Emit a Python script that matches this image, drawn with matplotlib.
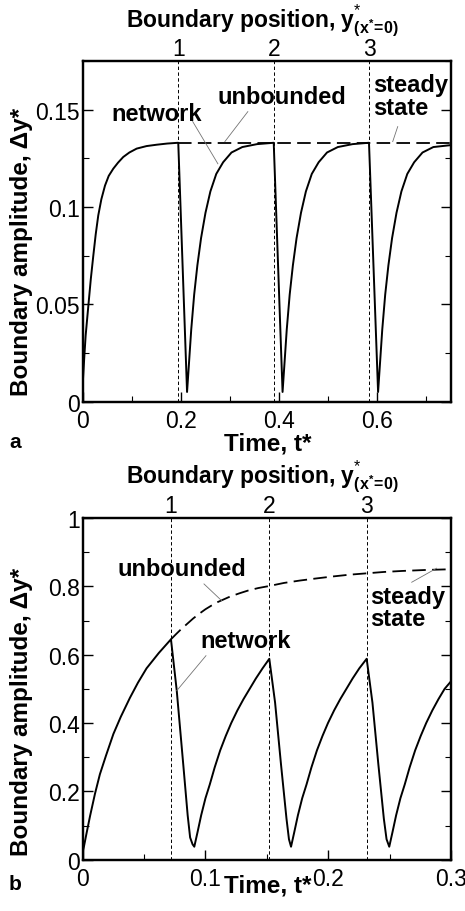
import matplotlib
matplotlib.use("Agg")
import matplotlib.pyplot as plt

plt.rcParams['font.family'] = ['Liberation Sans', 'DejaVu Sans']
plt.rcParams['mathtext.fontset'] = 'custom'
plt.rcParams['mathtext.rm'] = 'Liberation Sans'
plt.rcParams['mathtext.bf'] = 'Liberation Sans:bold'
plt.rcParams['mathtext.it'] = 'Liberation Sans:italic'

# ---------------- Panel a data ----------------
net_a_t = [0.000, 0.003, 0.006, 0.0114, 0.0165, 0.0216, 0.0265, 0.0317, 0.038, 0.0454, 0.053, 0.0623, 0.072,
           0.0826, 0.095, 0.1099, 0.130, 0.1506, 0.172, 0.1946,
           0.2125,
           0.2165, 0.221, 0.227, 0.2335, 0.241, 0.250, 0.260, 0.272, 0.286, 0.303, 0.325, 0.355, 0.389,
           0.407,
           0.411, 0.4155, 0.4215, 0.428, 0.4355, 0.4445, 0.4545, 0.4665, 0.4805, 0.4975, 0.5195, 0.5495, 0.583,
           0.6015,
           0.6055, 0.610, 0.616, 0.6225, 0.630, 0.639, 0.649, 0.661, 0.675, 0.692, 0.714, 0.750]
net_a_v = [0.009, 0.022, 0.034, 0.049, 0.063, 0.075, 0.086, 0.0957, 0.104, 0.111, 0.116, 0.1197, 0.1228,
           0.1257, 0.128, 0.130, 0.1313, 0.132, 0.1326, 0.133,
           0.005,
           0.020, 0.037, 0.055, 0.070, 0.084, 0.097, 0.108, 0.117, 0.123, 0.128, 0.1308, 0.1323, 0.133,
           0.005,
           0.020, 0.037, 0.055, 0.070, 0.084, 0.097, 0.108, 0.117, 0.123, 0.128, 0.1308, 0.1323, 0.133,
           0.005,
           0.020, 0.037, 0.055, 0.070, 0.084, 0.097, 0.108, 0.117, 0.123, 0.128, 0.1308, 0.1318]
steady_a_t = [0.1946, 0.75]
steady_a_v = [0.133, 0.133]
bound_a_t = [0.1946, 0.389, 0.583]
bound_labels = ['1', '2', '3']

# ---------------- Panel b data ----------------
net_b_t = [0.000, 0.003, 0.006, 0.010, 0.014, 0.019, 0.025, 0.031, 0.0385, 0.045, 0.052, 0.062, 0.0719,
           0.0766, 0.082, 0.0855, 0.0875, 0.0895, 0.0909,
           0.0935, 0.0965, 0.100, 0.1035, 0.1075, 0.112, 0.1165, 0.121, 0.126, 0.131, 0.136, 0.141, 0.1465, 0.152,
           0.1567, 0.1615, 0.166, 0.168, 0.1697,
           0.1723, 0.1753, 0.1788, 0.1823, 0.1863, 0.1908, 0.1953, 0.1998, 0.2048, 0.2098, 0.2148, 0.2198, 0.2253,
           0.2313,
           0.236, 0.2408, 0.2453, 0.2475, 0.2497,
           0.2523, 0.2553, 0.2588, 0.2623, 0.2663, 0.2708, 0.2753, 0.2798, 0.2848, 0.2898, 0.2948, 0.300]
net_b_v = [0.020, 0.075, 0.128, 0.193, 0.250, 0.305, 0.368, 0.418, 0.474, 0.518, 0.560, 0.605, 0.645,
           0.495, 0.275, 0.130, 0.065, 0.045, 0.038,
           0.080, 0.130, 0.180, 0.220, 0.270, 0.320, 0.362, 0.400, 0.437, 0.470, 0.500, 0.530, 0.560, 0.588,
           0.460, 0.280, 0.120, 0.060, 0.038,
           0.080, 0.130, 0.180, 0.220, 0.270, 0.320, 0.362, 0.400, 0.437, 0.470, 0.500, 0.530, 0.560,
           0.588,
           0.460, 0.280, 0.120, 0.060, 0.038,
           0.080, 0.130, 0.180, 0.220, 0.270, 0.320, 0.362, 0.400, 0.437, 0.470, 0.500, 0.522]
unb_b_t = [0.0719, 0.076, 0.080, 0.085, 0.090, 0.095, 0.100, 0.105, 0.110, 0.115, 0.120, 0.128, 0.135, 0.143,
           0.152, 0.164, 0.177, 0.190, 0.204, 0.217, 0.231, 0.245, 0.260, 0.280, 0.300]
unb_b_v = [0.645, 0.660, 0.674, 0.690, 0.706, 0.720, 0.733, 0.744, 0.754, 0.762, 0.770, 0.780, 0.788, 0.795,
           0.801, 0.810, 0.817, 0.823, 0.829, 0.834, 0.838, 0.842, 0.845, 0.848, 0.850]
bound_b_t = [0.0719, 0.152, 0.2313]

W, H = 465, 912
fig = plt.figure(figsize=(W / 100, H / 100), dpi=100)

TICK_FS = 16.5
LAB_FS = 17.5
TOP_FS = 16.5
ANN_FS = 17
LEADER = dict(color='0.45', lw=0.6)


def fmt(v):
    return ('%.3f' % v).rstrip('0').rstrip('.')


def setup(ax, xlim, ylim, xmaj, xmin, ymaj, ymin):
    ax.set_xlim(*xlim)
    ax.set_ylim(*ylim)
    ax.set_xticks(xmaj)
    ax.set_xticks(xmin, minor=True)
    ax.set_yticks(ymaj)
    ax.set_yticks(ymin, minor=True)
    ax.set_xticklabels([fmt(v) for v in xmaj])
    ax.set_yticklabels([fmt(v) for v in ymaj])
    ax.tick_params(which='both', direction='in', left=True, right=True, bottom=True, top=False,
                   labelsize=TICK_FS, width=1.0)
    ax.tick_params(which='major', length=7)
    ax.tick_params(which='minor', length=4, width=0.8)
    ax.tick_params(axis='x', pad=5)
    ax.tick_params(axis='y', pad=2)
    for s in ax.spines.values():
        s.set_linewidth(1.6)


def top_axis(ax, ticks):
    top = ax.twiny()
    top.set_xlim(ax.get_xlim())
    top.set_xticks(ticks)
    top.set_xticklabels(bound_labels)
    top.tick_params(direction='in', length=0, labelsize=TICK_FS, pad=0.5)
    for s in top.spines.values():
        s.set_linewidth(1.6)
    return top


def px(x, y):
    return x / W, 1 - y / H


# ---------------- Panel a ----------------
axa = fig.add_axes([82.7 / W, 1 - 402.7 / H, (451 - 82.7) / W, (402.7 - 62) / H])
setup(axa, (0, 0.75), (0, 0.175), [0, 0.2, 0.4, 0.6], [0.1, 0.3, 0.5, 0.7],
      [0, 0.05, 0.1, 0.15], [0.025, 0.075, 0.125, 0.175])
for t in bound_a_t:
    axa.axvline(t, color='black', lw=0.7, ls=(0, (3.5, 2.5)))
axa.plot(net_a_t, net_a_v, color='black', lw=1.4)
axa.plot(steady_a_t, steady_a_v, color='black', lw=1.3, ls=(0, (7.5, 3.5)))
top_axis(axa, bound_a_t)

axa.text(0.150, 0.148, 'network', fontsize=ANN_FS, fontweight='bold', ha='center', va='center')
axa.text(0.4055, 0.1567, 'unbounded', fontsize=ANN_FS, fontweight='bold', ha='center', va='center')
axa.text(0.5906, 0.157, 'steady\nstate', fontsize=ANN_FS, fontweight='bold', ha='left', va='center',
         linespacing=0.95)
axa.plot([0.224, 0.2753], [0.1439, 0.1222], **LEADER)
axa.plot([0.3363, 0.2895], [0.1490, 0.1336], **LEADER)
axa.plot([0.6415, 0.6313], [0.1413, 0.1336], **LEADER)

# ---------------- Panel b ----------------
axb = fig.add_axes([82.7 / W, 1 - 860.7 / H, (451 - 82.7) / W, (860.7 - 519) / H])
setup(axb, (0, 0.3), (0, 1.0), [0, 0.1, 0.2, 0.3], [0.05, 0.15, 0.25],
      [0, 0.2, 0.4, 0.6, 0.8, 1.0], [0.1, 0.3, 0.5, 0.7, 0.9])
for t in bound_b_t:
    axb.axvline(t, color='black', lw=0.7, ls=(0, (3.5, 2.5)))
axb.plot(net_b_t, net_b_v, color='black', lw=1.4)
axb.plot(unb_b_t, unb_b_v, color='black', lw=1.3, ls=(0, (7.5, 3.5)))
top_axis(axb, bound_b_t)

axb.text(0.0806, 0.851, 'unbounded', fontsize=ANN_FS, fontweight='bold', ha='center', va='center')
axb.text(0.1329, 0.641, 'network', fontsize=ANN_FS, fontweight='bold', ha='center', va='center')
axb.text(0.234, 0.7375, 'steady\nstate', fontsize=ANN_FS, fontweight='bold', ha='left', va='center',
         linespacing=0.95)
axb.plot([0.0988, 0.1132], [0.807, 0.758], **LEADER)
axb.plot([0.1004, 0.0766], [0.597, 0.4946], **LEADER)
axb.plot([0.268, 0.2883], [0.812, 0.853], **LEADER)

# ---------------- Labels ----------------
toplab = r'Boundary position, $\mathbf{y}^{*}_{\mathbf{(x^{*}\!=\!0)}}$'
ylab = 'Boundary amplitude, \u0394y*'
for (ytop, ybot, ylc) in [(27, 444, 252), (483, 886, 712)]:
    fig.text(*px(262, ytop), toplab, fontsize=TOP_FS, fontweight='bold', ha='center', va='baseline')
    fig.text(*px(268, ybot), 'Time, t*', fontsize=LAB_FS, fontweight='bold', ha='center', va='center')
    fig.text(*px(22, ylc), ylab, fontsize=LAB_FS, fontweight='bold', ha='center', va='center',
             rotation=90)
fig.text(*px(15, 443), 'a', fontsize=15, fontweight='bold', ha='center', va='center')
fig.text(*px(15, 885), 'b', fontsize=15, fontweight='bold', ha='center', va='center')

fig.savefig('out.png', dpi=100)
